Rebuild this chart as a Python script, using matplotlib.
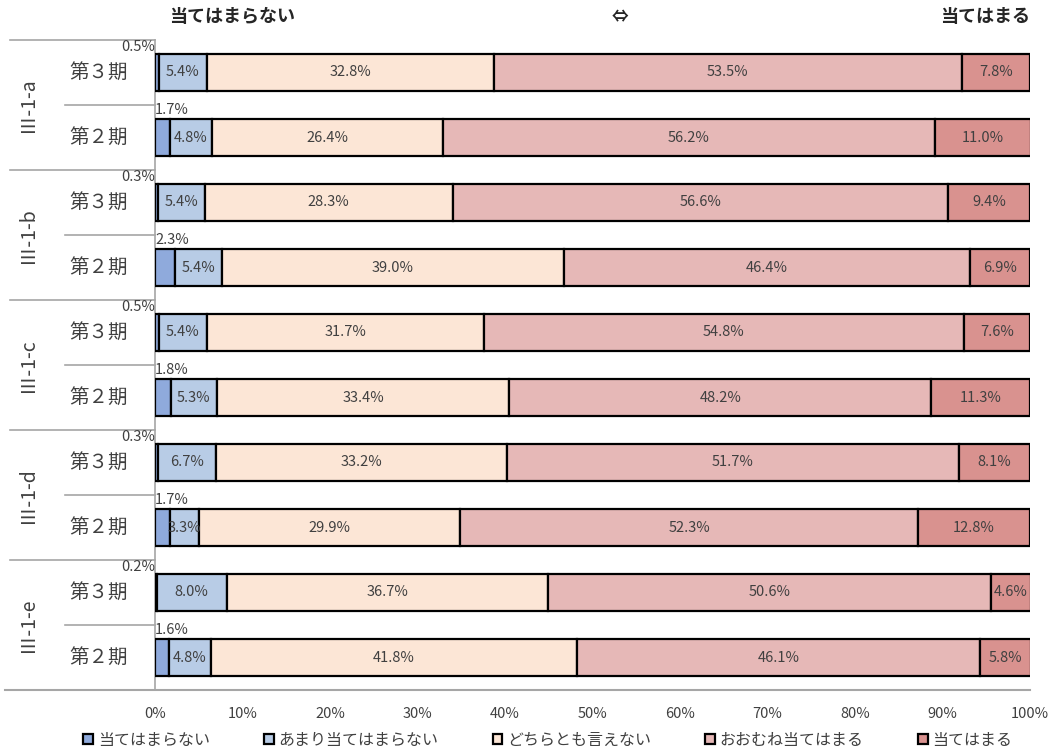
import matplotlib
matplotlib.use("Agg")
import matplotlib.pyplot as plt
from matplotlib.patches import Patch
import numpy as np

plt.rcParams['font.family'] = ['Noto Sans CJK JP', 'DejaVu Sans']

groups = ["Ⅲ-1-a", "Ⅲ-1-b", "Ⅲ-1-c", "Ⅲ-1-d", "Ⅲ-1-e"]
periods = ["第３期", "第２期"]
categories = ["当てはまらない", "あまり当てはまらない", "どちらとも言えない", "おおむね当てはまる", "当てはまる"]

not_apply = [0.5, 1.7, 0.3, 2.3, 0.5, 1.8, 0.3, 1.7, 0.2, 1.6]
rarely = [5.4, 4.8, 5.4, 5.4, 5.4, 5.3, 6.7, 3.3, 8.0, 4.8]
neutral = [32.8, 26.4, 28.3, 39.0, 31.7, 33.4, 33.2, 29.9, 36.7, 41.8]
mostly = [53.5, 56.2, 56.6, 46.4, 54.8, 48.2, 51.7, 52.3, 50.6, 46.1]
apply_ = [7.8, 11.0, 9.4, 6.9, 7.6, 11.3, 8.1, 12.8, 4.6, 5.8]
xticks = [0, 10, 20, 30, 40, 50, 60, 70, 80, 90, 100]

colors = ["#8FAADC", "#B8CCE6", "#FCE6D6", "#E6B8B7", "#D9928F"]
series = [not_apply, rarely, neutral, mostly, apply_]

fig = plt.figure(figsize=(10.6, 7.51), dpi=100)
ax = fig.add_axes([155/1060, 1-690/751, 875/1060, 650/751])

n = len(not_apply)
y = np.arange(n)
bh = 0.57
left = np.zeros(n)
numfont = ['Liberation Sans Narrow', 'Noto Sans CJK JP']
for si, vals in enumerate(series):
    vals = np.array(vals)
    ax.barh(y, vals, left=left, height=bh, color=colors[si], edgecolor='black', linewidth=1.6, zorder=3)
    for i in range(n):
        if si == 0:
            if i % 2 == 0:
                ax.text(0, i - bh/2, f"{vals[i]:.1f}%", ha='right', va='bottom', fontsize=10.5,
                        color='#404040', family=numfont)
            else:
                ax.text(0, i - bh/2 - 0.03, f"{vals[i]:.1f}%", ha='left', va='bottom', fontsize=10.5,
                        color='#404040', family=numfont)
        else:
            ax.text(left[i] + vals[i]/2, i, f"{vals[i]:.1f}%", ha='center', va='center', fontsize=10.5,
                    color='#404040', family=numfont, zorder=4)
    left = left + vals

ax.set_xlim(0, 100)
ax.set_ylim(n - 0.5, -0.5)
ax.set_xticks(xticks)
ax.set_xticklabels([f"{t}%" for t in xticks], fontsize=10.5, color='#404040', family=numfont)
ax.tick_params(axis='x', length=0, pad=12)
ax.set_yticks([])
for s in ['top', 'right', 'bottom']:
    ax.spines[s].set_visible(False)
ax.spines['left'].set_color('#A6A6A6')
ax.spines['left'].set_linewidth(1.2)

trans = ax.get_yaxis_transform()
for g in range(len(groups)):
    yy = 2*g - 0.5
    ax.plot([-0.166, 0], [yy, yy], transform=trans, color='#A6A6A6', lw=1.2, clip_on=False)
    ax.plot([-0.103, 0], [yy + 1, yy + 1], transform=trans, color='#A6A6A6', lw=1.2, clip_on=False)
    ax.text(-0.146, 2*g + 0.5, groups[g], transform=trans, rotation=90, ha='center', va='center',
            fontsize=14, color='#404040')
    for p in range(2):
        ax.text(-0.064, 2*g + p, periods[p], transform=trans, ha='center', va='center',
                fontsize=14, color='#404040')
ax.plot([-0.171, 1.0], [n - 0.5, n - 0.5], transform=trans, color='#A6A6A6', lw=1.5, clip_on=False)

fig.text(232/1060, 1-17/751, "当てはまらない", ha='center', va='center', fontsize=13, fontweight='bold', color='#262626')
fig.text(620/1060, 1-17/751, "⇔", ha='center', va='center', fontsize=12, fontweight='bold', color='#262626')
fig.text(985/1060, 1-17/751, "当てはまる", ha='center', va='center', fontsize=13, fontweight='bold', color='#262626')

handles = [Patch(facecolor=c, edgecolor='black', linewidth=1.6) for c in colors]
fig.legend(handles, categories, loc='center', bbox_to_anchor=(548/1060, 1-740/751), ncol=5,
           frameon=False, fontsize=11.5, handlelength=0.6, handleheight=0.6, handletextpad=0.3,
           columnspacing=3.4, labelcolor='#404040')

fig.savefig("out.png", dpi=100)
